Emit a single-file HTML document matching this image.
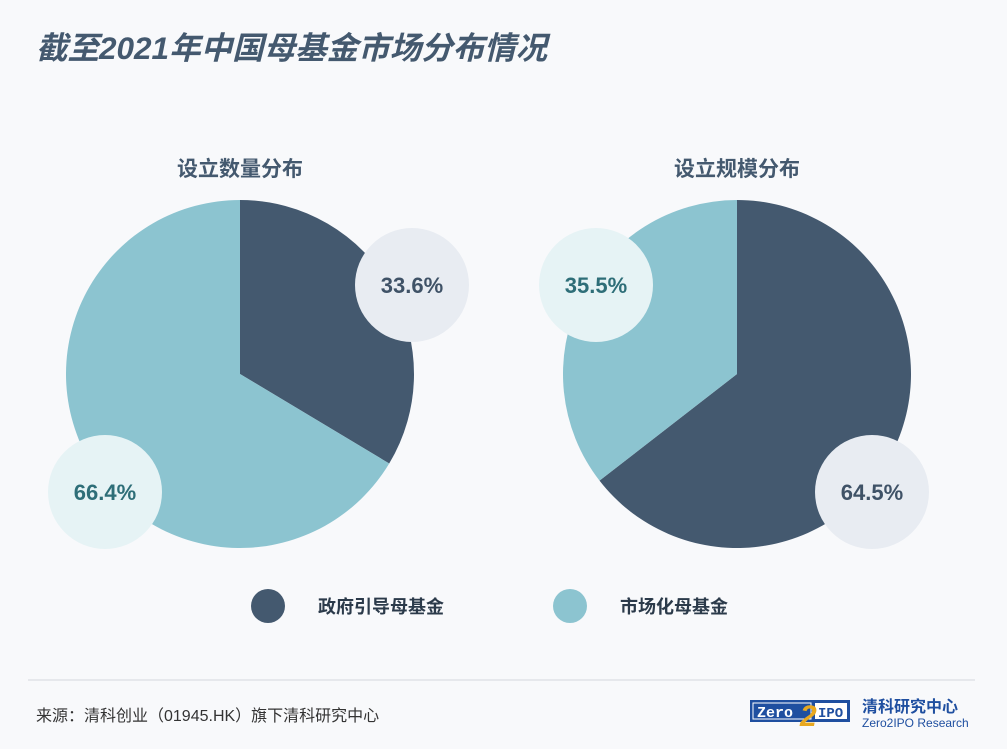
<!DOCTYPE html>
<html><head><meta charset="utf-8">
<style>
html,body{margin:0;padding:0;background:#f8f9fb;}
svg{display:block;font-family:"Liberation Sans","Noto Sans CJK SC",sans-serif;}
</style></head>
<body>
<svg id="c" width="1007" height="749" viewBox="0 0 1007 749">
<rect width="1007" height="749" fill="#f8f9fb"/>
<text x="36" y="59" font-size="31.5" font-weight="bold" font-style="italic" fill="#44596f">截至2021年中国母基金市场分布情况</text>
<text x="240" y="176" font-size="21" font-weight="bold" fill="#44596f" text-anchor="middle">设立数量分布</text>
<text x="737" y="176" font-size="21" font-weight="bold" fill="#44596f" text-anchor="middle">设立规模分布</text>
<g id="pies"></g>
<circle cx="268" cy="606" r="17" fill="#44596f"/>
<text x="318" y="613" font-size="18" font-weight="bold" fill="#2b3a4a">政府引导母基金</text>
<circle cx="570" cy="606" r="17" fill="#8cc4d0"/>
<text x="620" y="613" font-size="18" font-weight="bold" fill="#2b3a4a">市场化母基金</text>
<line x1="28" y1="680" x2="975" y2="680" stroke="#d4d8dd" stroke-width="1"/>
<text x="36" y="721" font-size="16" fill="#333">来源：清科创业（01945.HK）旗下清科研究中心</text>
<g>
<rect x="750" y="700" width="100" height="22" fill="#1f4fa0"/>
<rect x="753" y="703" width="58" height="16" fill="none" stroke="#fff" stroke-width="1"/>
<rect x="815" y="703" width="32" height="16" fill="#fff"/>
<text x="757" y="717" font-size="15" font-weight="bold" fill="#fff" font-family="Liberation Mono,monospace">Zero</text>
<text x="800" y="726" font-size="30" font-weight="bold" fill="#e8a820" font-style="italic">2</text>
<text x="818" y="717" font-size="14" font-weight="bold" fill="#1f4fa0" font-family="Liberation Mono,monospace">IPO</text>
</g>
<text x="862" y="712" font-size="16" font-weight="bold" fill="#1f4fa0">清科研究中心</text>
<text x="862" y="727" font-size="12" fill="#1f4fa0">Zero2IPO Research</text>
</svg>
<script>
const pieNames = ["count", "scale"];
const governmentShare = [33.6, 64.5];
const marketShare = [66.4, 35.5];
const NS = "http://www.w3.org/2000/svg";
const g = document.getElementById("pies");
const centers = [[240, 374], [737, 374]];
const R = 174;
function pt(cx, cy, frac) { const a = frac * 2 * Math.PI - Math.PI / 2; return [cx + R * Math.cos(a), cy + R * Math.sin(a)]; }
function slice(cx, cy, f0, f1, color, name) {
  const p0 = pt(cx, cy, f0), p1 = pt(cx, cy, f1);
  const large = (f1 - f0) > 0.5 ? 1 : 0;
  const p = document.createElementNS(NS, "path");
  p.setAttribute("d", `M${cx},${cy} L${p0[0]},${p0[1]} A${R},${R} 0 ${large} 1 ${p1[0]},${p1[1]} Z`);
  p.setAttribute("fill", color);
  
  
  g.appendChild(p);
}
function bubble(x, y, fill, color, label, name) {
  const c = document.createElementNS(NS, "circle");
  c.setAttribute("cx", x); c.setAttribute("cy", y); c.setAttribute("r", 57); c.setAttribute("fill", fill);
  
  
  g.appendChild(c);
  const t = document.createElementNS(NS, "text");
  t.setAttribute("x", x); t.setAttribute("y", y + 8); t.setAttribute("text-anchor", "middle");
  t.setAttribute("font-size", "22"); t.setAttribute("font-weight", "bold"); t.setAttribute("fill", color);
  t.textContent = label;
  
  
  g.appendChild(t);
}
pieNames.forEach((n, i) => {
  const [cx, cy] = centers[i];
  const tot = governmentShare[i] + marketShare[i];
  const gf = governmentShare[i] / tot;
  slice(cx, cy, 0, gf, "#44596f", n + "-government-slice");
  slice(cx, cy, gf, 1, "#8cc4d0", n + "-market-slice");
});
bubble(412, 285, "#e8ecf2", "#3f5267", governmentShare[0].toFixed(1) + "%", "count-government");
bubble(105, 492, "#e6f3f5", "#2e6e78", marketShare[0].toFixed(1) + "%", "count-market");
bubble(596, 285, "#e6f3f5", "#2e6e78", marketShare[1].toFixed(1) + "%", "scale-market");
bubble(872, 492, "#e8ecf2", "#3f5267", governmentShare[1].toFixed(1) + "%", "scale-government");
</script>
</body></html>
